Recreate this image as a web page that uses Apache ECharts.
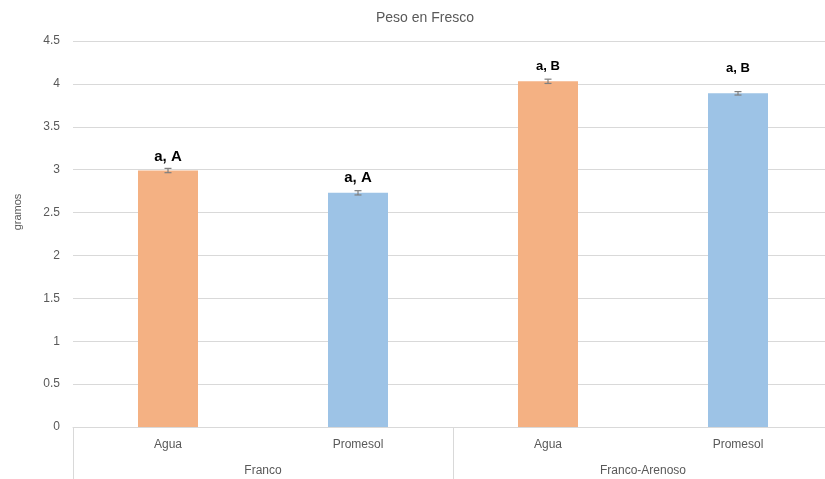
<!DOCTYPE html>
<html>
<head>
<meta charset="utf-8">
<script src="https://cdn.jsdelivr.net/npm/echarts@6/dist/echarts.min.js"></script>
<style>
  html, body { margin: 0; padding: 0; background: #fff; overflow: hidden; }
  #chart { width: 835px; height: 479px; }
</style>
</head>
<body>
<div id="chart"></div>
<script>
  const treatments = ['Agua', 'Promesol', 'Agua', 'Promesol'];
  const soils = ['Franco', 'Franco-Arenoso'];
  const pesoValues = [2.99, 2.73, 4.03, 3.89];
  const pesoErrors = [0.025, 0.025, 0.025, 0.02];
  const letters = ['a, A', 'a, A', 'a, B', 'a, B'];
  const yTicks = { min: 0, max: 4.5, interval: 0.5 };

  const ORANGE = '#f4b183';
  const BLUE = '#9dc3e6';
  const TEXT = '#595959';
  const LINE = '#d9d9d9';
  const FONT = '"Liberation Sans", Arial, sans-serif';
  // label spacing above bars, as placed in the original sheet
  const labelGap = [6, 7, 8, 18];
  const labelSize = [15, 15, 13, 13];

  const chart = echarts.init(document.getElementById('chart'), null, { renderer: 'canvas' });

  const barData = pesoValues.map((v, i) => ({
    value: v,
    itemStyle: { color: i % 2 === 0 ? ORANGE : BLUE },
    label: {
      show: true,
      position: 'top',
      distance: labelGap[i],
      formatter: letters[i],
      fontFamily: FONT,
      fontWeight: 'bold',
      fontSize: labelSize[i],
      color: '#000',
    },
  }));

  const option = {
    animation: false,
    textStyle: { fontFamily: FONT },
    title: {
      text: 'Peso en Fresco',
      left: 420,
      top: 6,
      textAlign: 'center',
      textStyle: { fontFamily: FONT, fontSize: 14, fontWeight: 'normal', color: TEXT },
    },
    grid: { left: 73, top: 41, width: 760, height: 386, containLabel: false },
    xAxis: [
      {
        type: 'category',
        data: treatments,
        position: 'bottom',
        axisLine: { show: true, lineStyle: { color: LINE, width: 1 } },
        axisTick: { show: false },
        axisLabel: { color: TEXT, fontSize: 12, fontFamily: FONT, margin: 12 },
      },
      {
        type: 'category',
        data: soils,
        position: 'bottom',
        axisLine: { show: false },
        axisTick: { show: true, length: 52, lineStyle: { color: LINE } },
        axisLabel: { color: TEXT, fontSize: 12, fontFamily: FONT, margin: 38 },
      },
    ],
    yAxis: {
      type: 'value',
      min: yTicks.min,
      max: yTicks.max,
      interval: yTicks.interval,
      name: 'gramos',
      nameLocation: 'middle',
      nameGap: 50,
      nameTextStyle: { color: TEXT, fontSize: 11, fontFamily: FONT, padding: [0, 0, 0, 44] },
      axisLine: { show: false },
      axisTick: { show: false },
      axisLabel: { color: TEXT, fontSize: 12, fontFamily: FONT, margin: 13 },
      splitLine: { lineStyle: { color: LINE, width: 1 } },
    },
    series: [
      {
        type: 'bar',
        xAxisIndex: 0,
        barWidth: 60,
        data: barData,
      },
      {
        type: 'custom',
        xAxisIndex: 0,
        z: 5,
        data: pesoValues.map((v, i) => [i, v - pesoErrors[i], v + pesoErrors[i]]),
        renderItem: function (params, api) {
          const x = api.value(0);
          const lo = api.coord([x, api.value(1)]);
          const hi = api.coord([x, api.value(2)]);
          const hw = 3.5;
          const style = { stroke: '#7f7f7f', lineWidth: 1.2 };
          return {
            type: 'group',
            children: [
              { type: 'line', shape: { x1: lo[0], y1: lo[1], x2: hi[0], y2: hi[1] }, style },
              { type: 'line', shape: { x1: lo[0] - hw, y1: lo[1], x2: lo[0] + hw, y2: lo[1] }, style },
              { type: 'line', shape: { x1: hi[0] - hw, y1: hi[1], x2: hi[0] + hw, y2: hi[1] }, style },
            ],
          };
        },
      },
    ],
  };

  chart.setOption(option);
</script>
</body>
</html>
